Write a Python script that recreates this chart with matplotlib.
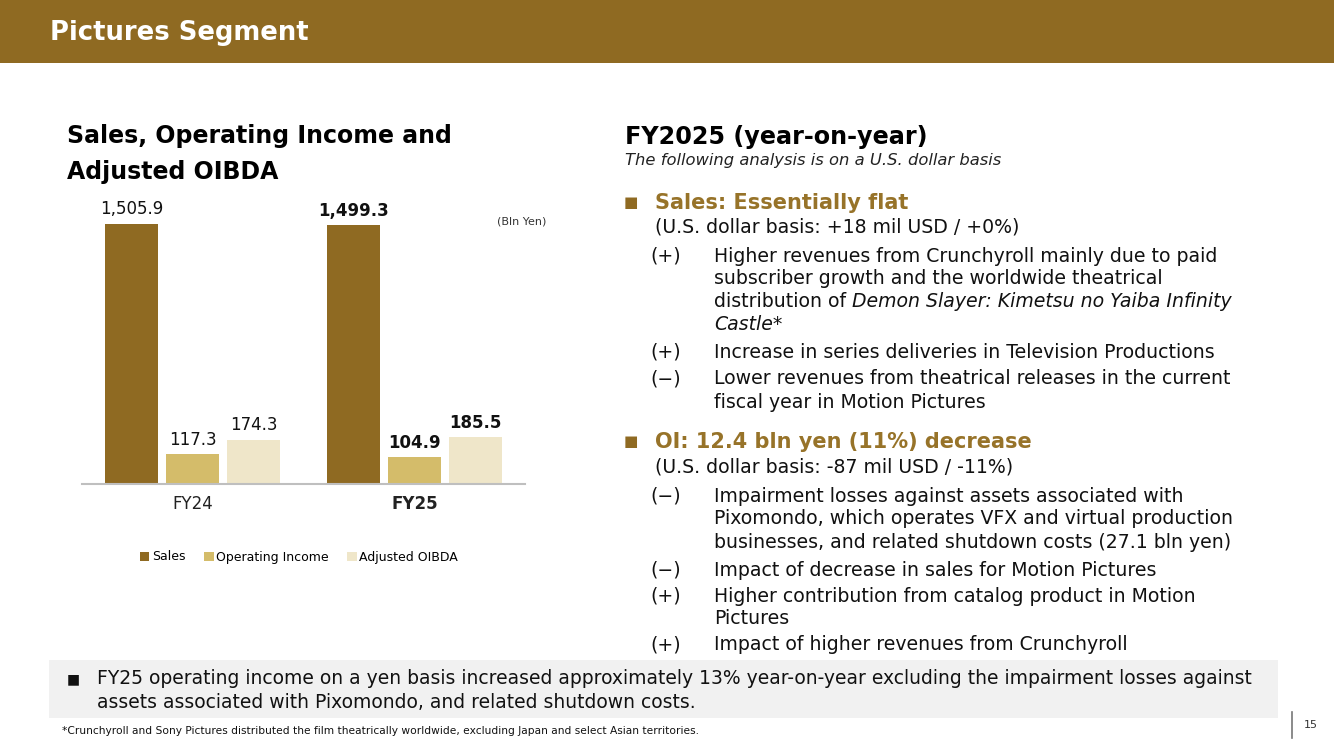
import numpy as np
import matplotlib
matplotlib.use('Agg')
import matplotlib.pyplot as plt
from matplotlib.patches import Rectangle, Patch
from matplotlib.lines import Line2D

plt.rcParams['font.family'] = ['DejaVu Sans']

# chart data (Bln Yen)
categories = ['FY24', 'FY25']
sales = [1505.9, 1499.3]
op_income = [117.3, 104.9]
adj_oibda = [174.3, 185.5]
series_names = ['Sales', 'Operating Income', 'Adjusted OIBDA']

GOLD = '#8F6A22'
OI_COL = '#D4BC6A'
OIBDA_COL = '#EFE6C9'
HEAD_COL = '#977329'

W, H = 1334, 749
fig = plt.figure(figsize=(W / 100, H / 100), dpi=100)


def fx(x):
    return x / W


def fy(y):
    return 1 - y / H


def put(x, y, s, **kw):
    kw.setdefault('va', 'center')
    kw.setdefault('ha', 'left')
    return fig.text(fx(x), fy(y), s, **kw)


# header band
fig.patches.append(Rectangle((0, fy(63)), 1, 63 / H, transform=fig.transFigure,
                             facecolor=GOLD, edgecolor='none', zorder=0))
put(50, 33, 'Pictures Segment', color='white', fontsize=18.6, fontweight='bold')

# chart title
put(67, 136, 'Sales, Operating Income and', fontsize=17, fontweight='bold')
put(67, 172, 'Adjusted OIBDA', fontsize=17, fontweight='bold')
put(497, 221, '(Bln Yen)', fontsize=8, color='#333333')

# broken-style axis: squeeze the range between LO and HI (as on the slide)
LO, HI, S = 400.0, 900.0, 0.066


def fwd(v):
    v = np.asarray(v, dtype=float)
    return np.where(v <= LO, v,
                    np.where(v <= HI, LO + (v - LO) * S, LO + (HI - LO) * S + (v - HI)))


def inv(u):
    u = np.asarray(u, dtype=float)
    mid = LO + (HI - LO) * S
    return np.where(u <= LO, u,
                    np.where(u <= mid, LO + (u - LO) / S, HI + (u - mid)))


ax = fig.add_axes([fx(82), fy(483.5), (525 - 82) / W, (483.5 - 190) / H])
ax.set_yscale('function', functions=(fwd, inv))
ax.set_ylim(0, 1640)

x = np.arange(len(categories))
bw = 53 / 222
step = 61 / 222
groups = [sales, op_income, adj_oibda]
colors = [GOLD, OI_COL, OIBDA_COL]
for i, (vals, col) in enumerate(zip(groups, colors)):
    xs = x + (i - 1) * step
    ax.bar(xs, vals, width=bw, color=col, zorder=2)
    for j, (xx, v) in enumerate(zip(xs, vals)):
        ax.annotate(f'{v:,.1f}', (xx, v), xytext=(0, 4), textcoords='offset points',
                    ha='center', va='bottom', fontsize=12,
                    fontweight='bold' if j == 1 else 'normal', color='#111111')

ax.set_xlim(-110.5 / 222, 332.5 / 222)
for s in ['top', 'right', 'left']:
    ax.spines[s].set_visible(False)
ax.spines['bottom'].set_color('#BFBFBF')
ax.spines['bottom'].set_linewidth(1.5)
ax.set_yticks([])
ax.yaxis.set_minor_locator(matplotlib.ticker.NullLocator())
ax.set_xticks(x)
ax.set_xticklabels(categories, fontsize=12, color='#222222')
ax.get_xticklabels()[1].set_fontweight('bold')
ax.tick_params(axis='x', length=0, pad=8)

handles = [Patch(facecolor=c, edgecolor='none') for c in colors]
fig.legend(handles, series_names, loc='center', bbox_to_anchor=(fx(299), fy(557)),
           ncol=3, frameon=False, fontsize=9, handlelength=0.75, handleheight=0.75,
           handletextpad=0.2, columnspacing=1.5)

# right column
renderer = fig.canvas.get_renderer()
BODY = 13.6


def text_width(s, **kw):
    t = fig.text(0, 0, s, **kw)
    w = t.get_window_extent(renderer).width
    t.remove()
    return w


def segments(x, y, parts):
    gap = text_width('a a', fontsize=BODY) - text_width('aa', fontsize=BODY)
    for s, style in parts:
        t = put(x, y, s, fontsize=BODY, fontstyle=style, color='#111111')
        x += t.get_window_extent(renderer).width + gap


put(625, 137, 'FY2025 (year-on-year)', fontsize=17.2, fontweight='bold')
put(625, 161, 'The following analysis is on a U.S. dollar basis', fontsize=11.8,
    fontstyle='italic', color='#222222')


def heading(y, s):
    put(624, y, '\u25A0', fontsize=11, color=GOLD)
    put(655, y, s, fontsize=15, fontweight='bold', color=HEAD_COL)


def item(y, sign, lines):
    put(650, y, '(' + sign + ')', fontsize=BODY, color='#111111')
    for k, ln in enumerate(lines):
        yy = y + k * 23
        if isinstance(ln, list):
            segments(714, yy, ln)
        else:
            put(714, yy, ln, fontsize=BODY, color='#111111')


heading(203, 'Sales: Essentially flat')
put(655, 227, '(U.S. dollar basis: +18 mil USD / +0%)', fontsize=BODY, color='#111111')
item(256, '+', ['Higher revenues from Crunchyroll mainly due to paid',
                'subscriber growth and the worldwide theatrical',
                [('distribution of', 'normal'),
                 ('Demon Slayer: Kimetsu no Yaiba Infinity', 'italic')],
                [('Castle*', 'italic')]])
item(352, '+', ['Increase in series deliveries in Television Productions'])
item(379, '\u2212', ['Lower revenues from theatrical releases in the current',
                     'fiscal year in Motion Pictures'])

heading(442, 'OI: 12.4 bln yen (11%) decrease')
put(655, 467, '(U.S. dollar basis: -87 mil USD / -11%)', fontsize=BODY, color='#111111')
item(496, '\u2212', ['Impairment losses against assets associated with',
                     'Pixomondo, which operates VFX and virtual production',
                     'businesses, and related shutdown costs (27.1 bln yen)'])
item(570, '\u2212', ['Impact of decrease in sales for Motion Pictures'])
item(596, '+', ['Higher contribution from catalog product in Motion',
                'Pictures'])
item(645, '+', ['Impact of higher revenues from Crunchyroll'])

# bottom note box
fig.patches.append(Rectangle((fx(49), fy(718)), (1278 - 49) / W, (718 - 660) / H,
                             transform=fig.transFigure, facecolor='#F1F1F1',
                             edgecolor='none', zorder=0))
put(67, 679, '\u25A0', fontsize=10, color='#111111')
put(97, 679, 'FY25 operating income on a yen basis increased approximately 13% '
    'year-on-year excluding the impairment losses against', fontsize=13.5, color='#111111')
put(97, 703, 'assets associated with Pixomondo, and related shutdown costs.',
    fontsize=13.5, color='#111111')

put(62, 731, '*Crunchyroll and Sony Pictures distributed the film theatrically worldwide, '
    'excluding Japan and select Asian territories.', fontsize=7.7, color='#111111')

fig.add_artist(Line2D([fx(1292), fx(1292)], [fy(712), fy(738)], transform=fig.transFigure,
                      color='#777777', linewidth=1.2))
put(1304, 725, '15', fontsize=8, color='#333333')

fig.savefig('out.png', dpi=100)
